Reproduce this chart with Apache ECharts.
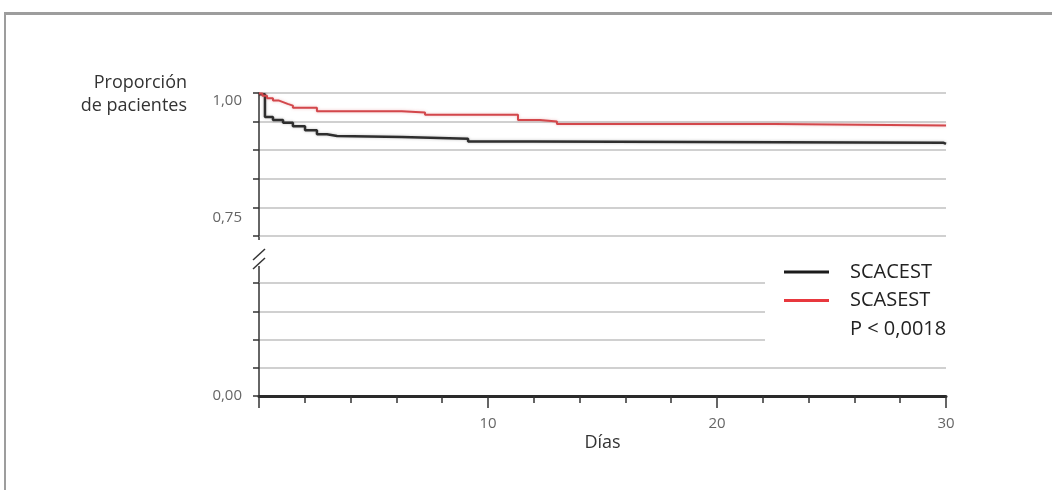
<!DOCTYPE html>
<html>
<head>
<meta charset="utf-8">
<script src="https://cdn.jsdelivr.net/npm/echarts@6/dist/echarts.min.js"></script>
<style>
  html, body { margin: 0; padding: 0; background: #fff; }
  #frame { position: absolute; left: 4px; top: 12px; right: 0; bottom: 0;
           border-top: 3px solid #9d9d9d; border-left: 2px solid #9d9d9d; }
  #chart { position: absolute; left: 0; top: 0; width: 1052px; height: 490px; }
</style>
</head>
<body>
<div id="frame"></div>
<div id="chart"></div>
<script>
// Kaplan–Meier survival, 30-day follow-up
const FONT = '"Open Sans", "Noto Sans", sans-serif';

const seriesNames = ['SCACEST', 'SCASEST'];
const pValueText = 'P < 0,0018';

// time (days) at which each survival value starts
const daysScacest = [0, 0.26, 0.61, 1.05, 1.48, 2.01, 2.53, 2.97, 3.41, 6.24, 9.13, 11.97, 29.9, 30];
const survScacest = [0.998, 0.958, 0.953, 0.948, 0.942, 0.935, 0.928, 0.925, 0.923, 0.920, 0.915, 0.913, 0.911, 0.911];

const daysScasest = [0, 0.15, 0.35, 0.61, 0.85, 1.05, 1.25, 1.48, 2.53, 6.24, 7.25, 11.31, 12.27, 13.01, 22.53, 30];
const survScasest = [0.999, 0.995, 0.991, 0.987, 0.984, 0.981, 0.978, 0.974, 0.968, 0.966, 0.962, 0.953, 0.950, 0.946, 0.943, 0.943];

// axis extents: upper panel (0,75–1,00) and lower panel (0–0,20) around a broken axis
const upperRange = [0.75, 1.0];
const lowerRange = [0, 0.2];
const yStep = 0.05;
const xRange = [0, 30];
const xStep = 10;

const yLabelsUpper = { '1': '1,00', '0.75': '0,75' };
const yLabelsLower = { '0': '0,00' };
const xTitle = 'Días';
const yTitle = 'Proporción\nde pacientes';

const colors = { SCACEST: '#2e2e2e', SCASEST: '#d3474b' };
const legendColors = { SCACEST: '#1b1b1b', SCASEST: '#e8383e' };

const pairs = (xs, ys) => xs.map((x, i) => [x, ys[i]]);
const keyOf = v => String(Math.round(v * 100) / 100);

const axisLineStyle = { color: '#333', width: 1.5 };
const splitStyle = { color: '#d0d0d0', width: 2 };

const chart = echarts.init(document.getElementById('chart'), null, { renderer: 'canvas' });

const option = {
  animation: false,
  backgroundColor: 'transparent',
  grid: [
    { left: 259, right: 106, top: 93, height: 143 },
    { left: 259, right: 106, top: 283, height: 113 }
  ],
  xAxis: [
    { gridIndex: 0, type: 'value', min: xRange[0], max: xRange[1], interval: xStep, show: false },
    {
      gridIndex: 1, type: 'value', min: xRange[0], max: xRange[1], interval: xStep,
      name: xTitle, nameLocation: 'middle', nameGap: 38,
      nameTextStyle: { fontFamily: FONT, fontSize: 18, color: '#333' },
      axisLine: { show: true, onZero: false, lineStyle: { color: '#2a2a2a', width: 3 } },
      axisTick: { show: true, inside: false, length: 12, lineStyle: { color: '#333', width: 1.5 } },
      minorTick: { show: true, splitNumber: 5, length: 7, lineStyle: { color: '#333', width: 1.5 } },
      splitLine: { show: false },
      axisLabel: {
        margin: 20, fontFamily: FONT, fontSize: 15, color: '#666',
        formatter: v => (v === 0 ? '' : String(v))
      }
    }
  ],
  yAxis: [
    {
      gridIndex: 0, type: 'value', min: upperRange[0], max: upperRange[1], interval: yStep,
      axisLine: { show: true, onZero: false, lineStyle: axisLineStyle },
      axisTick: { show: true, inside: false, length: 6, lineStyle: axisLineStyle },
      splitLine: { show: true, lineStyle: splitStyle },
      axisLabel: {
        margin: 17, fontFamily: FONT, fontSize: 15, color: '#666',
        formatter: v => {
          const t = yLabelsUpper[keyOf(v)];
          if (!t) return '';
          return v > 0.99 ? '{lo|' + t + '}' : '{hi|' + t + '}';
        },
        rich: {
          lo: { fontFamily: FONT, fontSize: 15, color: '#666', padding: [16, 0, 0, 0] },
          hi: { fontFamily: FONT, fontSize: 15, color: '#666', padding: [0, 0, 36, 0] }
        }
      }
    },
    {
      gridIndex: 1, type: 'value', min: lowerRange[0], max: lowerRange[1], interval: yStep,
      axisLine: { show: true, onZero: false, lineStyle: axisLineStyle },
      axisTick: { show: true, inside: false, length: 6, lineStyle: axisLineStyle },
      splitLine: { show: true, lineStyle: splitStyle },
      axisLabel: {
        margin: 17, fontFamily: FONT, fontSize: 15, color: '#666',
        formatter: v => yLabelsLower[keyOf(v)] || ''
      }
    }
  ],
  legend: {
    orient: 'vertical', left: 765, top: 243,
    padding: [19, 8, 20, 19], itemGap: 8.5,
    itemWidth: 45, itemHeight: 20,
    backgroundColor: '#fff', selectedMode: false,
    textStyle: { fontFamily: FONT, fontSize: 20, color: '#222', padding: [0, 0, 0, 16] },
    data: [
      { name: seriesNames[0], icon: 'path://M0,0 L45,0 L45,3 L0,3 Z', itemStyle: { color: legendColors.SCACEST } },
      { name: seriesNames[1], icon: 'path://M0,0 L45,0 L45,3 L0,3 Z', itemStyle: { color: legendColors.SCASEST } },
      { name: pValueText, icon: 'none' }
    ]
  },
  graphic: [
    {
      type: 'text', right: 1052 - 187, top: 71,
      style: { text: yTitle, font: '18px ' + FONT, fill: '#333', textAlign: 'right', lineHeight: 23 }
    },
    // broken-axis marker between the two panels
    { type: 'line', shape: { x1: 259, y1: 236, x2: 259, y2: 240 }, style: { stroke: '#333', lineWidth: 1.5 } },
    { type: 'line', shape: { x1: 253, y1: 260, x2: 265, y2: 249 }, style: { stroke: '#333', lineWidth: 1.5 } },
    { type: 'line', shape: { x1: 253, y1: 269, x2: 265, y2: 258 }, style: { stroke: '#333', lineWidth: 1.5 } },
    { type: 'line', shape: { x1: 259, y1: 266, x2: 259, y2: 283 }, style: { stroke: '#333', lineWidth: 1.5 } }
  ],
  series: [
    {
      name: seriesNames[0], type: 'line', step: 'end', xAxisIndex: 0, yAxisIndex: 0,
      symbol: 'none', data: pairs(daysScacest, survScacest),
      lineStyle: { color: colors.SCACEST, width: 2.5, shadowBlur: 3, shadowColor: 'rgba(0,0,0,0.25)' },
      itemStyle: { color: colors.SCACEST }, z: 3
    },
    {
      name: seriesNames[1], type: 'line', step: 'end', xAxisIndex: 0, yAxisIndex: 0,
      symbol: 'none', data: pairs(daysScasest, survScasest),
      lineStyle: { color: colors.SCASEST, width: 2, shadowBlur: 3, shadowColor: 'rgba(210,70,75,0.35)' },
      itemStyle: { color: colors.SCASEST }, z: 3
    },
    {
      name: pValueText, type: 'scatter', xAxisIndex: 1, yAxisIndex: 1, data: []
    }
  ]
};

chart.setOption(option);
</script>
</body>
</html>
